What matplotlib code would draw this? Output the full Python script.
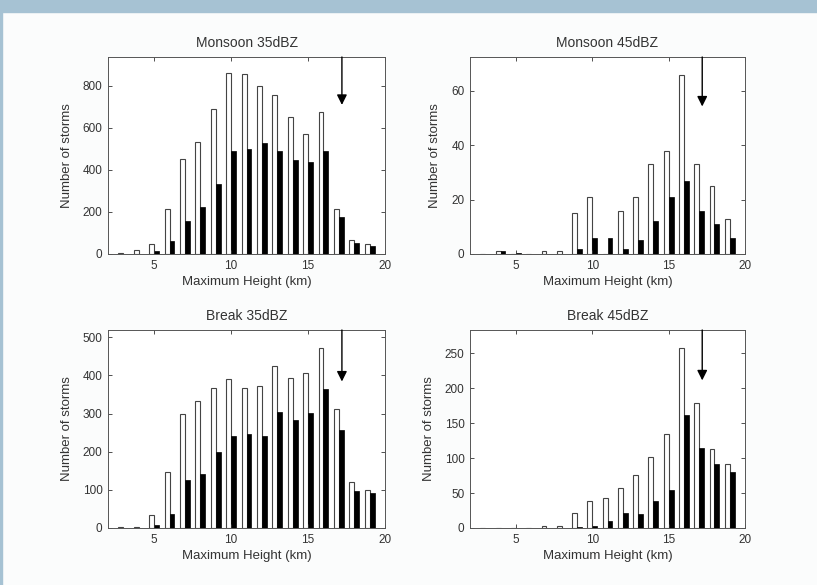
import numpy as np
import matplotlib.pyplot as plt

plt.rcParams['font.family'] = ['Liberation Sans', 'DejaVu Sans']
plt.rcParams['font.size'] = 9.5
plt.rcParams['text.color'] = '#333333'
plt.rcParams['axes.labelcolor'] = '#333333'
plt.rcParams['xtick.color'] = '#333333'
plt.rcParams['ytick.color'] = '#333333'

heights = [3, 4, 5, 6, 7, 8, 9, 10, 11, 12, 13, 14, 15, 16, 17, 18, 19]

# Monsoon 35dBZ
mon35_white = [3, 19, 48, 214, 452, 532, 690, 860, 857, 801, 755, 654, 571, 674, 214, 65, 46]
mon35_black = [2, 0, 13, 62, 156, 225, 332, 490, 501, 527, 490, 448, 436, 492, 176, 54, 40]
# Monsoon 45dBZ
mon45_white = [0, 1, 0, 0, 1, 1, 15, 21, 0, 16, 21, 33, 38, 66, 33, 25, 13]
mon45_black = [0, 1, 0.5, 0, 0, 0, 2, 6, 6, 2, 5, 12, 21, 27, 16, 11, 6]
# Break 35dBZ
brk35_white = [3, 3, 35, 147, 298, 334, 366, 390, 368, 372, 425, 394, 405, 471, 311, 121, 99]
brk35_black = [1, 0, 9, 37, 126, 141, 200, 241, 246, 240, 305, 283, 302, 365, 256, 97, 92]
# Break 45dBZ
brk45_white = [0, 0, 0, 0, 3, 3, 22, 38, 43, 57, 76, 101, 134, 257, 178, 113, 91]
brk45_black = [0, 0, 0, 0, 0, 0, 1.5, 3, 10, 21, 20, 38, 55, 161, 115, 92, 80]

panels = [
    ("Monsoon 35dBZ", mon35_white, mon35_black, 938, [0, 200, 400, 600, 800], 710),
    ("Monsoon 45dBZ", mon45_white, mon45_black, 72.5, [0, 20, 40, 60], 54.3),
    ("Break 35dBZ", brk35_white, brk35_black, 519, [0, 100, 200, 300, 400, 500], 384),
    ("Break 45dBZ", brk45_white, brk45_black, 283, [0, 50, 100, 150, 200, 250], 211),
]
arrow_x = 17.2

W, H = 817, 585
fig = plt.figure(figsize=(W / 100, H / 100), dpi=100)
fig.patch.set_facecolor('#fbfcfc')
# slide frame: blue band on top and thin line on the left
fig.add_artist(plt.Rectangle((0, 1 - 12 / H), 1, 12 / H, transform=fig.transFigure,
                             color='#a6c2d3', zorder=0))
fig.add_artist(plt.Rectangle((0, 0), 2 / W, 1, transform=fig.transFigure,
                             color='#a6c2d3', zorder=0))

boxes = [(108, 57, 385, 254), (470, 57, 745, 254), (108, 330, 385, 528), (470, 330, 745, 528)]

x = np.array(heights)
w = 0.32
for (title, wv, bv, ytop, yt, tip), (l, t, r, b) in zip(panels, boxes):
    ax = fig.add_axes([l / W, 1 - b / H, (r - l) / W, (b - t) / H])
    ax.set_facecolor('white')
    ax.bar(x - w / 2, wv, width=w, color='white', edgecolor='#444444', linewidth=0.8)
    ax.bar(x + w / 2, bv, width=w, color='black', edgecolor='black', linewidth=0.5)
    ax.annotate('', xy=(arrow_x, tip), xytext=(arrow_x, ytop),
                arrowprops=dict(arrowstyle='-|>', color='black', lw=1.0,
                                mutation_scale=15, shrinkA=0, shrinkB=0))
    ax.set_xlim(2, 20)
    ax.set_ylim(0, ytop)
    ax.set_xticks([5, 10, 15, 20])
    ax.set_yticks(yt)
    ax.tick_params(direction='in', length=3, width=0.6, top=True, right=True,
                   labelsize=8.5, pad=4)
    for s in ax.spines.values():
        s.set_color('#555555')
        s.set_linewidth(0.7)
    ax.set_title(title, fontsize=10, pad=7)
    ax.set_xlabel('Maximum Height (km)', labelpad=3)
    ax.set_ylabel('Number of storms', labelpad=7)

fig.savefig('out.png', dpi=100, facecolor=fig.get_facecolor())
